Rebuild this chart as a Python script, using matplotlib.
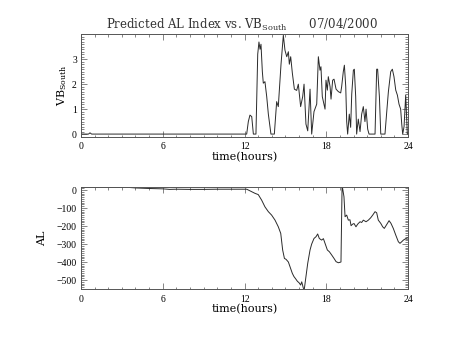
import numpy as np
import matplotlib
matplotlib.use('Agg')
import matplotlib.pyplot as plt
from matplotlib.ticker import MultipleLocator, FixedLocator

plt.rcParams['font.family'] = 'DejaVu Serif'
plt.rcParams['mathtext.fontset'] = 'custom'
plt.rcParams['mathtext.rm'] = 'DejaVu Serif'

# VB south (hours, value)
vb_time = [0.0, 0.55, 0.66, 0.78, 12.16, 12.28, 12.40, 12.53, 12.65, 12.84, 12.97, 13.06,
           13.14, 13.21, 13.31, 13.38, 13.50, 13.63, 13.75, 13.94, 14.19, 14.36, 14.48,
           14.68, 14.85, 14.97, 15.10, 15.22, 15.29, 15.39, 15.51, 15.66, 15.83, 15.95,
           16.12, 16.27, 16.37, 16.51, 16.64, 16.81, 16.93, 17.10, 17.30, 17.42, 17.54,
           17.61, 17.71, 17.91, 17.98, 18.08, 18.15, 18.28, 18.35, 18.47, 18.57, 18.72,
           18.89, 19.06, 19.13, 19.25, 19.33, 19.43, 19.50, 19.57, 19.69, 19.79, 19.87,
           19.99, 20.06, 20.16, 20.23, 20.35, 20.48, 20.60, 20.72, 20.84, 20.92, 21.04,
           21.14, 21.58, 21.70, 21.77, 21.90, 22.00, 22.31, 22.44, 22.56, 22.73, 22.85,
           22.97, 23.10, 23.22, 23.34, 23.46, 23.54, 23.61, 23.71, 23.83, 23.95, 24.0]
vb_south = [0.0, 0.0, 0.05, 0.0, 0.0, 0.5, 0.76, 0.7, 0.0, 0.0, 3.2, 3.69,
            3.4, 3.6, 2.5, 2.04, 2.1, 1.5, 0.8, 0.0, 0.0, 1.3, 1.1,
            2.8, 3.96, 3.36, 3.1, 3.3, 2.8, 3.1, 2.45, 1.8, 1.75, 2.0,
            1.1, 1.5, 2.0, 0.4, 0.13, 1.8, 0.0, 0.9, 1.2, 3.1, 2.56,
            2.7, 1.5, 1.0, 2.16, 1.76, 2.3, 1.9, 1.4, 2.16, 2.2, 1.8,
            1.7, 1.65, 1.9, 2.5, 2.76, 1.9, 0.5, 0.0, 0.8, 0.27, 1.6,
            2.56, 2.6, 1.5, 0.0, 0.6, 0.1, 0.8, 1.1, 0.5, 1.0, 0.2,
            0.0, 0.0, 2.6, 2.6, 1.5, 0.0, 0.0, 0.9, 1.7, 2.5, 2.6,
            2.3, 1.76, 1.56, 1.2, 1.0, 0.4, 0.0, 0.3, 1.56, 0.0, 0.0]

# predicted AL index (hours, nT)
al_time = [0.0, 3.5, 4.0, 5.0, 6.0, 6.5, 7.0, 8.0, 9.0, 10.0, 12.16, 12.40, 12.77,
           13.01, 13.26, 13.50, 13.75, 13.99, 14.24, 14.48, 14.66, 14.80, 14.93, 15.05,
           15.22, 15.34, 15.51, 15.63, 15.76, 15.88, 16.00, 16.12, 16.20, 16.32, 16.39,
           16.51, 16.64, 16.81, 16.93, 17.10, 17.25, 17.37, 17.49, 17.66, 17.79, 17.91,
           18.08, 18.23, 18.40, 18.57, 18.72, 18.89, 19.08, 19.16, 19.20, 19.30, 19.38,
           19.50, 19.62, 19.74, 19.82, 19.94, 20.04, 20.18, 20.31, 20.48, 20.60, 20.72,
           20.92, 21.09, 21.26, 21.41, 21.58, 21.70, 21.82, 22.00, 22.14, 22.26, 22.44,
           22.61, 22.75, 22.92, 23.10, 23.29, 23.41, 23.54, 23.66, 23.85, 24.0]
al_index = [15, 15, 12, 9, 7, 4, 5, 4, 4, 5, 5, -4, -18,
            -25, -56, -93, -120, -139, -167, -204, -241, -333, -380, -385,
            -400, -426, -463, -481, -494, -507, -515, -528, -510, -546, -550,
            -481, -407, -333, -300, -269, -259, -244, -269, -278, -270, -296,
            -333, -343, -361, -380, -398, -404, -400, 15, 10, -37, -148,
            -139, -167, -165, -198, -189, -186, -204, -189, -176, -180, -167,
            -176, -167, -154, -139, -120, -126, -167, -185, -204, -213, -191,
            -170, -185, -213, -250, -287, -296, -287, -278, -269, -265]

hour_ticks = [0, 6, 12, 18, 24]
vb_ticks = [0, 1, 2, 3]

fig = plt.figure(figsize=(4.54, 3.41), dpi=100)
ax1 = fig.add_axes([0.1784, 0.5995, 0.7203, 0.3000])
ax2 = fig.add_axes([0.1784, 0.1525, 0.7203, 0.2995])

ax1.plot(vb_time, vb_south, color='#2a2a2a', lw=0.7)
ax2.plot(al_time, al_index, color='#2a2a2a', lw=0.7)

ax1.set_ylim(-0.1, 4.0)
ax1.yaxis.set_major_locator(FixedLocator(vb_ticks))
ax1.yaxis.set_minor_locator(MultipleLocator(0.1))
ax2.set_ylim(-550, 18)
ax2.yaxis.set_major_locator(MultipleLocator(100))
ax2.yaxis.set_minor_locator(MultipleLocator(10))

for ax in (ax1, ax2):
    ax.set_xlim(0, 24)
    ax.set_xticks(hour_ticks)
    ax.xaxis.set_minor_locator(MultipleLocator(1))
    ax.tick_params(which='both', direction='in', top=True, right=True,
                   width=0.5, color='#555555')
    ax.tick_params(which='major', length=4.5, labelsize=7, pad=4)
    ax.tick_params(axis='y', which='major', pad=3)
    ax.tick_params(axis='x', which='minor', length=1.8)
    ax.tick_params(axis='y', which='minor', length=2.2)
    for lab in ax.get_xticklabels() + ax.get_yticklabels():
        lab.set_family('Liberation Serif')
    for sp in ax.spines.values():
        sp.set_linewidth(0.7)
        sp.set_color('#555555')
    ax.set_xlabel('time(hours)', fontsize=8)
    ax.xaxis.set_label_coords(0.5, -0.15)

ax1.set_ylabel(r'VB$_{\mathrm{South}}$', fontsize=8)
ax1.yaxis.set_label_coords(-0.036, 0.5)
ax2.set_ylabel('AL', fontsize=8)
ax2.yaxis.set_label_coords(-0.105, 0.5)

fig.text(0.532, 1 - 29 / 341, r'Predicted AL Index vs. VB$_{\mathrm{South}}$      07/04/2000',
         ha='center', va='baseline', fontsize=8.5, color='#333333')

fig.savefig('out.png', dpi=100)
